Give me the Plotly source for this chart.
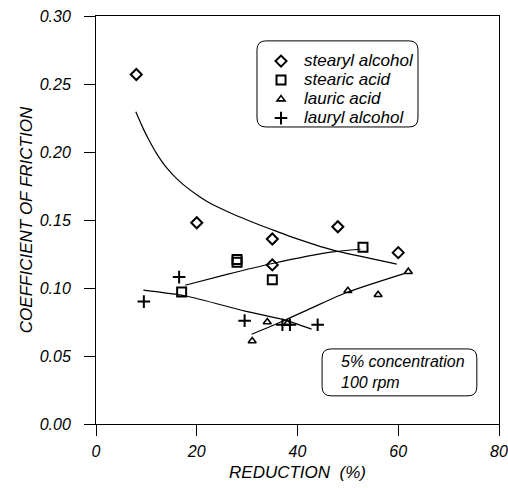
import plotly.graph_objects as go

# ---- data ----
names = ["stearyl alcohol", "stearic acid", "lauric acid", "lauryl alcohol"]

stearyl_x = [8, 20, 35, 35, 48, 60]
stearyl_y = [0.257, 0.148, 0.136, 0.117, 0.145, 0.126]

stearic_x = [17, 28, 28, 35, 53]
stearic_y = [0.097, 0.119, 0.121, 0.106, 0.130]

lauric_x = [31, 34, 38, 50, 56, 62]
lauric_y = [0.061, 0.075, 0.074, 0.098, 0.095, 0.112]

lauryl_x = [9.5, 16.5, 29.5, 37, 38.5, 44]
lauryl_y = [0.090, 0.108, 0.076, 0.073, 0.073, 0.073]

# fitted curves, points
stearyl_fit_x = [7.9, 9.4, 10.7, 12.0, 14.0, 16.7, 20.0, 22.3, 26.6, 30.0, 35.0, 38.5, 47.1, 59.7]
stearyl_fit_y = [0.2296, 0.2170, 0.2075, 0.1990, 0.1885, 0.1780, 0.1685, 0.1630, 0.1553,
                 0.1500, 0.1428, 0.1380, 0.1278, 0.1176]

stearic_fit_x = [17.7, 26, 35, 47, 52.5]
stearic_fit_y = [0.102, 0.110, 0.118, 0.1265, 0.1285]

lauric_fit_x = [30.9, 36.8, 43.5, 50.1, 61.3]
lauric_fit_y = [0.066, 0.0752, 0.0865, 0.0972, 0.1108]

lauryl_fit_x = [9.4, 17.7, 29.6, 37.5, 42.8]
lauryl_fit_y = [0.0985, 0.0943, 0.0830, 0.0764, 0.0698]

x_ticks = [0, 20, 40, 60, 80]
y_ticks = [0.00, 0.05, 0.10, 0.15, 0.20, 0.25, 0.30]

FONT = "Liberation Sans, Arial, sans-serif"

fig = go.Figure()

series = [
    (stearyl_x, stearyl_y, "diamond-open", 8.5, 2.0),
    (stearic_x, stearic_y, "square-open", 9, 2.0),
    (lauric_x, lauric_y, "triangle-up-open", 7, 1.6),
    (lauryl_x, lauryl_y, "cross-thin-open", 9, 2.0),
]
for (xs, ys, sym, sz, lw), nm in zip(series, names):
    fig.add_trace(go.Scatter(
        x=xs, y=ys, mode="markers",
        name="<span style='font-size:17px'>" + nm + "</span>",
        marker=dict(symbol=sym, size=sz, color="black",
                    line=dict(color="black", width=lw)),
    ))

for fx, fy in [(stearyl_fit_x, stearyl_fit_y), (stearic_fit_x, stearic_fit_y),
               (lauric_fit_x, lauric_fit_y), (lauryl_fit_x, lauryl_fit_y)]:
    fig.add_trace(go.Scatter(
        x=fx, y=fy, mode="lines", showlegend=False, hoverinfo="skip",
        line=dict(color="black", width=1.2, shape="spline", smoothing=0.6),
    ))


def rounded(x0, y0, x1, y1, rx, ry):
    return (f"M {x0+rx},{y0} L {x1-rx},{y0} Q {x1},{y0} {x1},{y0+ry} "
            f"L {x1},{y1-ry} Q {x1},{y1} {x1-rx},{y1} L {x0+rx},{y1} "
            f"Q {x0},{y1} {x0},{y1-ry} L {x0},{y0+ry} Q {x0},{y0} {x0+rx},{y0} Z")


fig.add_shape(type="path", xref="paper", yref="paper",
              path=rounded(0.3995, 0.728, 0.799, 0.939, 0.022, 0.022),
              line=dict(color="black", width=1), layer="below")
fig.add_shape(type="path", xref="paper", yref="paper",
              path=rounded(0.561, 0.069, 0.945, 0.184, 0.022, 0.022),
              line=dict(color="black", width=1), layer="below")

fig.add_annotation(xref="paper", yref="paper", x=0.603, y=0.127,
                   xanchor="left", yanchor="middle", align="left",
                   showarrow=False, text="5% concentration<br>100 rpm",
                   font=dict(size=16, family=FONT, color="black", style="italic"))

axis_common = dict(
    showline=True, linecolor="black", linewidth=1, mirror=True,
    ticks="outside", ticklen=11, tickwidth=1, tickcolor="black",
    showgrid=False, zeroline=False, automargin=False,
    tickfont=dict(size=16, family=FONT, color="black", style="italic"),
)

fig.update_layout(
    width=508, height=488,
    margin=dict(l=96, r=9, t=16, b=64),
    paper_bgcolor="white", plot_bgcolor="white",
    font=dict(family=FONT, color="black", style="italic"),
    xaxis=dict(range=[0, 80], tickvals=x_ticks,
               ticktext=[str(v) for v in x_ticks],
               ticklabelstandoff=2,
               title=dict(text="REDUCTION  (%)", standoff=6,
                          font=dict(size=17, family=FONT, style="italic")),
               **axis_common),
    yaxis=dict(range=[0, 0.30], tickvals=y_ticks,
               ticktext=[f"{v:.2f}" for v in y_ticks],
               ticklabelstandoff=10,
               title=dict(text="COEFFICIENT OF FRICTION", standoff=2,
                          font=dict(size=17, family=FONT, style="italic")),
               **axis_common),
    legend=dict(x=0.402, y=0.925, xanchor="left", yanchor="top",
                bgcolor="rgba(0,0,0,0)", borderwidth=0, itemwidth=36,
                font=dict(size=12, family=FONT, color="black", style="italic"),
                tracegroupgap=0),
    showlegend=True,
)

fig.write_html(
    "out.html",
    config={"displayModeBar": False},
    post_script="document.body.style.margin='0';document.body.style.overflow='hidden';",
)
